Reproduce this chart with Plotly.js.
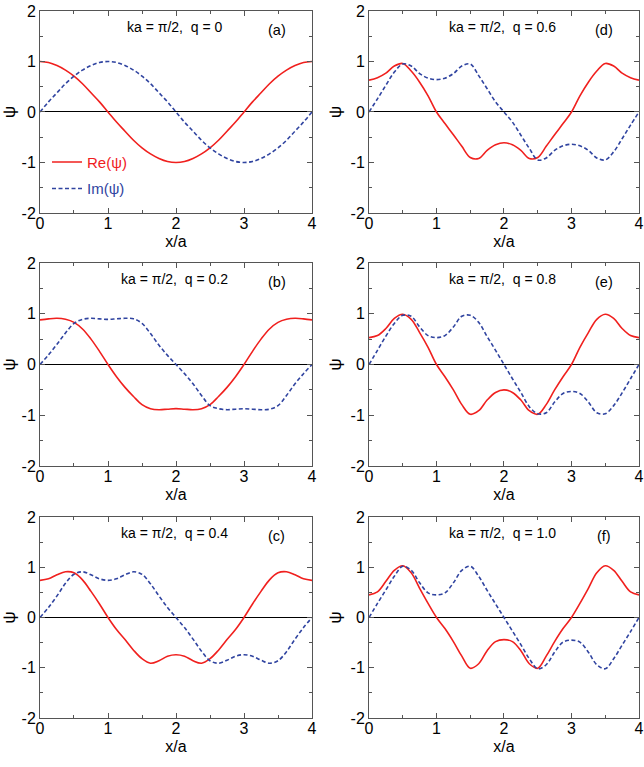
<!DOCTYPE html>
<html><head><meta charset="utf-8">
<script src="https://cdn.plot.ly/plotly-3.0.1.min.js"></script>
<style>html,body{margin:0;padding:0;background:#fff}#chart{width:644px;height:767px}</style>
</head><body><div id="chart"></div>
<script>
// x/a sample positions
const xPos = [0,0.125,0.25,0.375,0.5,0.625,0.75,0.875,1,1.125,1.25,1.375,1.5,1.625,1.75,1.875,2,
              2.125,2.25,2.375,2.5,2.625,2.75,2.875,3,3.125,3.25,3.375,3.5,3.625,3.75,3.875,4];

// (a) q = 0
const reA = [1.00,0.98,0.92,0.83,0.71,0.56,0.38,0.20,0.00,-0.20,-0.38,-0.56,-0.71,-0.83,-0.92,-0.98,-1.00,
             -0.98,-0.92,-0.83,-0.71,-0.56,-0.38,-0.20,0.00,0.20,0.38,0.56,0.71,0.83,0.92,0.98,1.00];
const imA = [0.00,0.20,0.38,0.56,0.71,0.83,0.92,0.98,1.00,0.98,0.92,0.83,0.71,0.56,0.38,0.20,0.00,
             -0.20,-0.38,-0.56,-0.71,-0.83,-0.92,-0.98,-1.00,-0.98,-0.92,-0.83,-0.71,-0.56,-0.38,-0.20,0.00];
// (b) q = 0.2
const reB = [0.88,0.90,0.91,0.89,0.83,0.70,0.50,0.26,0.00,-0.24,-0.45,-0.63,-0.79,-0.87,-0.89,-0.88,-0.87,
             -0.88,-0.89,-0.87,-0.79,-0.63,-0.45,-0.24,0.00,0.26,0.50,0.70,0.83,0.89,0.91,0.90,0.88];
const imB = [0.00,0.19,0.40,0.62,0.81,0.89,0.91,0.90,0.89,0.90,0.91,0.90,0.81,0.61,0.38,0.18,0.00,
             -0.18,-0.38,-0.61,-0.81,-0.87,-0.89,-0.88,-0.87,-0.88,-0.89,-0.88,-0.81,-0.61,-0.38,-0.18,0.00];
// (c) q = 0.4
const reC = [0.74,0.77,0.85,0.91,0.89,0.75,0.52,0.27,0.00,-0.24,-0.44,-0.65,-0.82,-0.91,-0.86,-0.77,-0.74,
             -0.77,-0.86,-0.91,-0.82,-0.65,-0.44,-0.24,0.00,0.27,0.52,0.75,0.89,0.91,0.85,0.77,0.74];
const imC = [0.00,0.20,0.43,0.68,0.86,0.91,0.85,0.77,0.74,0.77,0.85,0.91,0.86,0.67,0.43,0.20,0.00,
             -0.20,-0.43,-0.67,-0.86,-0.91,-0.85,-0.77,-0.74,-0.77,-0.85,-0.91,-0.86,-0.68,-0.43,-0.20,0.00];
// (d) q = 0.6
const reD = [0.63,0.68,0.77,0.91,0.96,0.81,0.59,0.32,0.00,-0.23,-0.45,-0.68,-0.90,-0.92,-0.76,-0.65,-0.61,
             -0.65,-0.76,-0.92,-0.90,-0.68,-0.45,-0.23,0.00,0.32,0.59,0.81,0.96,0.91,0.77,0.68,0.63];
const imD = [0.00,0.26,0.53,0.79,0.95,0.91,0.76,0.67,0.64,0.67,0.76,0.91,0.95,0.72,0.46,0.20,0.00,
             -0.20,-0.46,-0.72,-0.95,-0.91,-0.76,-0.67,-0.64,-0.67,-0.76,-0.91,-0.95,-0.79,-0.53,-0.26,0.00];
// (e) q = 0.8
const reE = [0.53,0.57,0.71,0.91,0.99,0.89,0.63,0.34,0.00,-0.24,-0.50,-0.79,-0.98,-0.91,-0.70,-0.55,-0.50,
             -0.55,-0.70,-0.91,-0.98,-0.79,-0.50,-0.24,0.00,0.34,0.63,0.89,0.99,0.91,0.71,0.57,0.53];
const imE = [0.00,0.28,0.56,0.81,0.97,0.95,0.74,0.57,0.53,0.57,0.74,0.95,0.97,0.83,0.55,0.28,0.00,
             -0.28,-0.55,-0.83,-0.97,-0.95,-0.74,-0.57,-0.53,-0.57,-0.74,-0.95,-0.97,-0.81,-0.56,-0.28,0.00];
// (f) q = 1.0
const reF = [0.45,0.51,0.72,0.94,1.03,0.89,0.58,0.28,0.00,-0.22,-0.48,-0.77,-1.01,-0.92,-0.66,-0.48,-0.44,
             -0.48,-0.66,-0.92,-1.01,-0.77,-0.48,-0.22,0.00,0.28,0.58,0.89,1.03,0.94,0.72,0.51,0.45];
const imF = [0.00,0.28,0.55,0.82,1.02,0.94,0.69,0.49,0.45,0.49,0.69,0.94,1.02,0.82,0.54,0.27,0.00,
             -0.27,-0.54,-0.82,-1.02,-0.94,-0.69,-0.49,-0.45,-0.49,-0.69,-0.94,-1.02,-0.82,-0.55,-0.28,0.00];

const panelTitles = ['ka = \u03c0/2,\u00a0 q = 0','ka = \u03c0/2,\u00a0 q = 0.2','ka = \u03c0/2,\u00a0 q = 0.4',
                     'ka = \u03c0/2,\u00a0 q = 0.6','ka = \u03c0/2,\u00a0 q = 0.8','ka = \u03c0/2,\u00a0 q = 1.0'];
const panelLetters = ['(a)','(b)','(c)','(d)','(e)','(f)'];
const reSeries = [reA,reB,reC,reD,reE,reF];
const imSeries = [imA,imB,imC,imD,imE,imF];
const xTickVals = [0,1,2,3,4];
const xTickText = ['0','1','2','3','4'];
const yTickVals = [-2,-1,0,1,2];
const yTickText = ['-2','-1','0','1','2'];
const xTitle = 'x/a';
const yTitle = '\u03c8';
const legendNames = ['Re(\u03c8)','Im(\u03c8)'];

const RED = '#f0201e', BLUE = '#3044a0';
const FONT = 'Liberation Sans, Arial, sans-serif';

// layout geometry (paper fractions)
const colDom = [[0.0621,0.4845],[0.5730,0.9922]];
const rowDom = [[0.7223,0.9857],[0.3924,0.6571],[0.0639,0.3259]];

const traces = [];
const layout = {
  width:644, height:767,
  margin:{l:0,r:0,t:0,b:0},
  paper_bgcolor:'#fff', plot_bgcolor:'#fff',
  font:{family:FONT, size:15, color:'#000'},
  showlegend:true,
  legend:{x:0.073, y:0.810, xanchor:'left', yanchor:'top', bgcolor:'rgba(0,0,0,0)',
          font:{family:FONT,size:15}, tracegroupgap:4, itemwidth:30},
  annotations:[]
};

for (let i=0;i<6;i++){
  const col = i<3?0:1, row = i%3;
  const n = i+1, sx = n===1?'':String(n);
  const xa = 'x'+sx, ya = 'y'+sx;
  traces.push({x:xPos, y:reSeries[i], xaxis:xa, yaxis:ya, type:'scatter', mode:'lines',
    line:{color:RED, width:1.6, shape:'spline', smoothing:1},
    name:'<span style="color:'+RED+'">'+legendNames[0]+'</span>',
    legendgroup:'re', showlegend:i===0});
  traces.push({x:xPos, y:imSeries[i], xaxis:xa, yaxis:ya, type:'scatter', mode:'lines',
    line:{color:BLUE, width:1.6, dash:'4px,2.5px', shape:'spline', smoothing:1},
    name:'<span style="color:'+BLUE+'">'+legendNames[1]+'</span>',
    legendgroup:'im', showlegend:i===0});
  layout['xaxis'+sx] = {domain:colDom[col], anchor:ya, range:[0,4],
    tickmode:'array', tickvals:xTickVals, ticktext:xTickText,
    ticks:'inside', ticklen:5, tickcolor:'#555', showline:true, linecolor:'#555', linewidth:1,
    mirror:'allticks', showgrid:false, zeroline:false, ticklabelstandoff:-4,
    minor:{dtick:0.5, tick0:0, ticks:'inside', ticklen:3, tickcolor:'#555', showgrid:false},
    tickfont:{family:FONT,size:16,color:'#000'},
    title:{text:xTitle, font:{family:FONT,size:16,color:'#000'}, standoff:4}};
  layout['yaxis'+sx] = {domain:rowDom[row], anchor:xa, range:[-2,2],
    tickmode:'array', tickvals:yTickVals, ticktext:yTickText,
    ticks:'inside', ticklen:5, tickcolor:'#555', showline:true, linecolor:'#555', linewidth:1,
    mirror:'allticks', showgrid:false, zeroline:true, zerolinecolor:'#000', zerolinewidth:1,
    minor:{dtick:0.5, tick0:0, ticks:'inside', ticklen:3, tickcolor:'#555', showgrid:false},
    tickfont:{family:FONT,size:16,color:'#000'},
    title:{text:yTitle, font:{family:FONT,size:17,color:'#000'}, standoff:4}};
  layout.annotations.push({xref:xa, yref:ya, x:1.98, y:1.68, text:panelTitles[i], showarrow:false,
    xanchor:'center', yanchor:'middle', font:{family:FONT,size:14,color:'#000'}});
  layout.annotations.push({xref:xa, yref:ya, x:3.48, y:1.62, text:panelLetters[i], showarrow:false,
    xanchor:'center', yanchor:'middle', font:{family:FONT,size:14.5,color:'#000'}});
}

Plotly.newPlot('chart', traces, layout, {displayModeBar:false, staticPlot:true});
</script>
</body></html>
